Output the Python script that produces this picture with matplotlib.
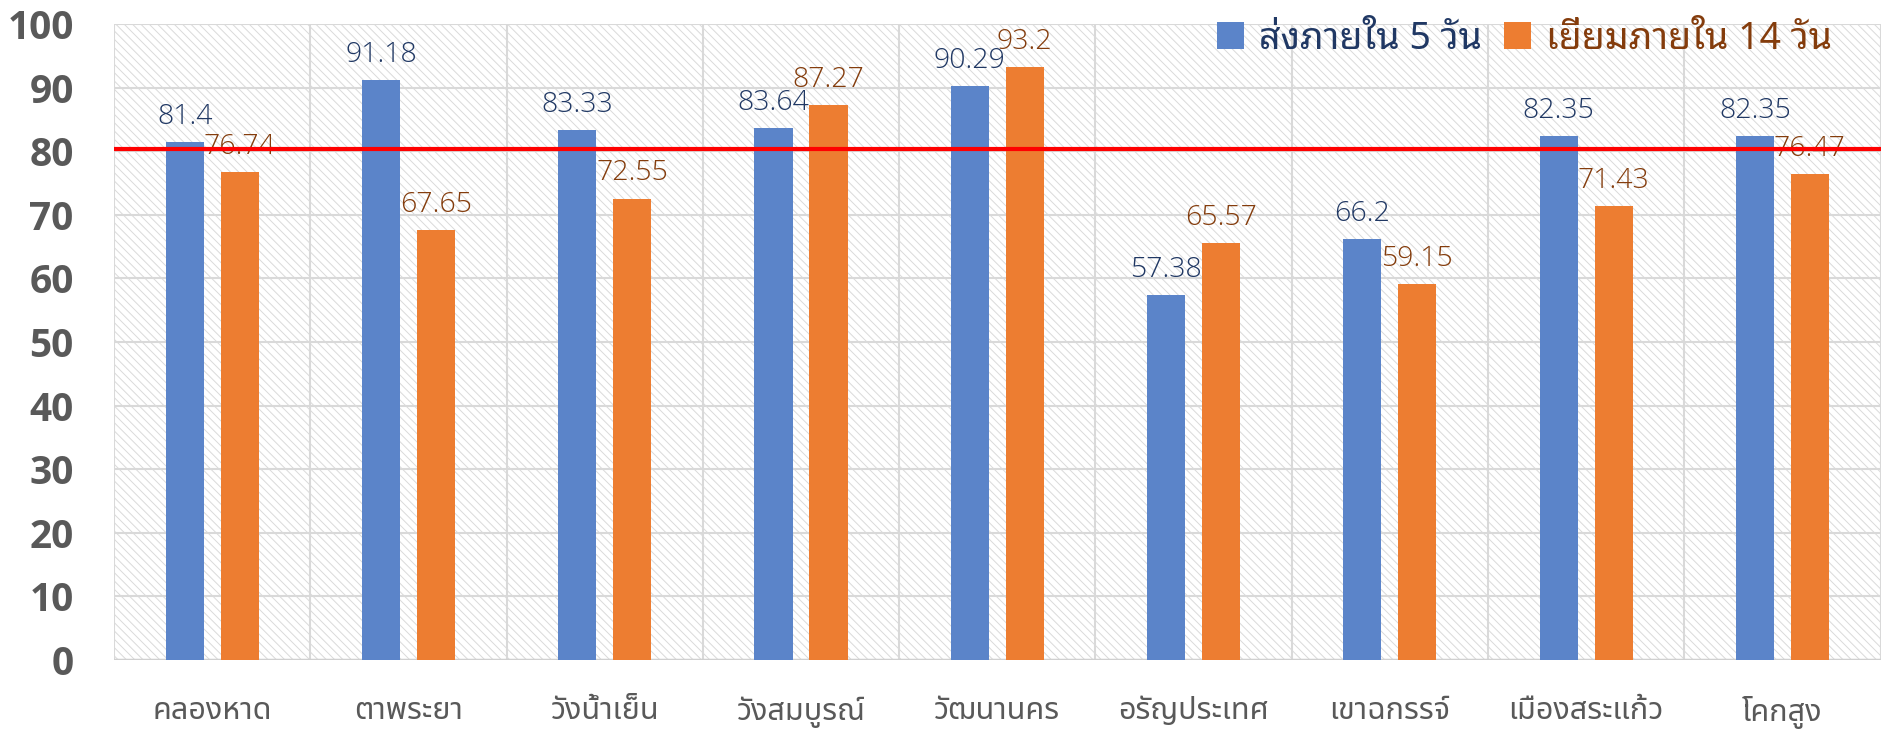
import matplotlib
matplotlib.use("Agg")
import matplotlib.pyplot as plt
import numpy as np
from matplotlib.patches import Rectangle, Patch

# data
districts = ['คลองหาด', 'ตาพระยา', 'วังน้ำเย็น', 'วังสมบูรณ์', 'วัฒนานคร',
             'อรัญประเทศ', 'เขาฉกรรจ์', 'เมืองสระแก้ว', 'โคกสูง']
send_5d = [81.4, 91.18, 83.33, 83.64, 90.29, 57.38, 66.2, 82.35, 82.35]
visit_14d = [76.74, 67.65, 72.55, 87.27, 93.2, 65.57, 59.15, 71.43, 76.47]
target = 80.3
series_names = ['ส่งภายใน 5 วัน', 'เยี่ยมภายใน 14 วัน']
yticks = [0, 10, 20, 30, 40, 50, 60, 70, 80, 90, 100]

blue = '#5B84C9'
orange = '#ED7D31'
blue_txt = '#203864'
orange_txt = '#843C0C'
grey = '#595959'
grid_c = '#D9D9D9'

plt.rcParams['hatch.linewidth'] = 0.7

fig = plt.figure(figsize=(18.85, 7.34), dpi=100)
ax = fig.add_axes([114 / 1885, 74 / 734, 1766.6 / 1885, 636 / 734])

# hatched background
ax.add_patch(Rectangle((0, 0), 1, 1, transform=ax.transAxes, facecolor='white',
                       edgecolor='#DADADA', hatch='\\\\\\\\', lw=0, zorder=0))

x = np.arange(len(districts))
w = 0.194
off = 0.14
b1 = ax.bar(x - off, send_5d, w, color=blue, zorder=3)
b2 = ax.bar(x + off, visit_14d, w, color=orange, zorder=3)

num_font = ['Open Sans', 'DejaVu Sans']
for bars, vals, c in [(b1, send_5d, blue_txt), (b2, visit_14d, orange_txt)]:
    for r, v in zip(bars, vals):
        ax.annotate('{:g}'.format(v), (r.get_x() + r.get_width() / 2, v),
                    xytext=(0, 8), textcoords='offset points', ha='center', va='bottom',
                    fontsize=20.5, color=c, family=num_font, fontweight='light', zorder=4)

ax.axhline(target, color='#FF0000', lw=3, zorder=5)

# grid
for yv in yticks:
    ax.axhline(yv, color=grid_c, lw=1.5, zorder=1)
for xv in np.arange(len(districts) + 1) - 0.5:
    ax.axvline(xv, color=grid_c, lw=1.5, zorder=1)
ax.axhline(0, color='#D0D0D0', lw=2.5, zorder=2)

ax.set_xlim(-0.5, len(districts) - 0.5)
ax.set_ylim(0, 100)
ax.set_yticks(yticks)
ax.set_yticklabels([str(t) for t in yticks], fontsize=28, fontweight='bold',
                   color=grey, family=num_font)
ax.set_xticks(x)
ax.set_xticklabels(districts, fontsize=22, color=grey,
                   family=['Noto Sans Thai', 'DejaVu Sans'], fontweight='semibold')
ax.tick_params(axis='y', length=0, pad=29)
ax.tick_params(axis='x', length=0, pad=26)
for s in ax.spines.values():
    s.set_visible(False)

handles = [Patch(facecolor=blue), Patch(facecolor=orange)]
leg = ax.legend(handles, series_names, loc='upper right', ncol=2,
                bbox_to_anchor=(1851 / 1885, 1 - 1 / 734), bbox_transform=fig.transFigure,
                frameon=False, borderpad=0, handlelength=0.72, handleheight=0.72,
                handletextpad=0.4, columnspacing=0.6,
                prop={'family': ['Noto Sans Thai Looped', 'DejaVu Sans'], 'weight': 'bold', 'size': 27})
leg.set_zorder(6)
for t, c in zip(leg.get_texts(), [blue_txt, orange_txt]):
    t.set_color(c)

fig.savefig('out.png', dpi=100)
